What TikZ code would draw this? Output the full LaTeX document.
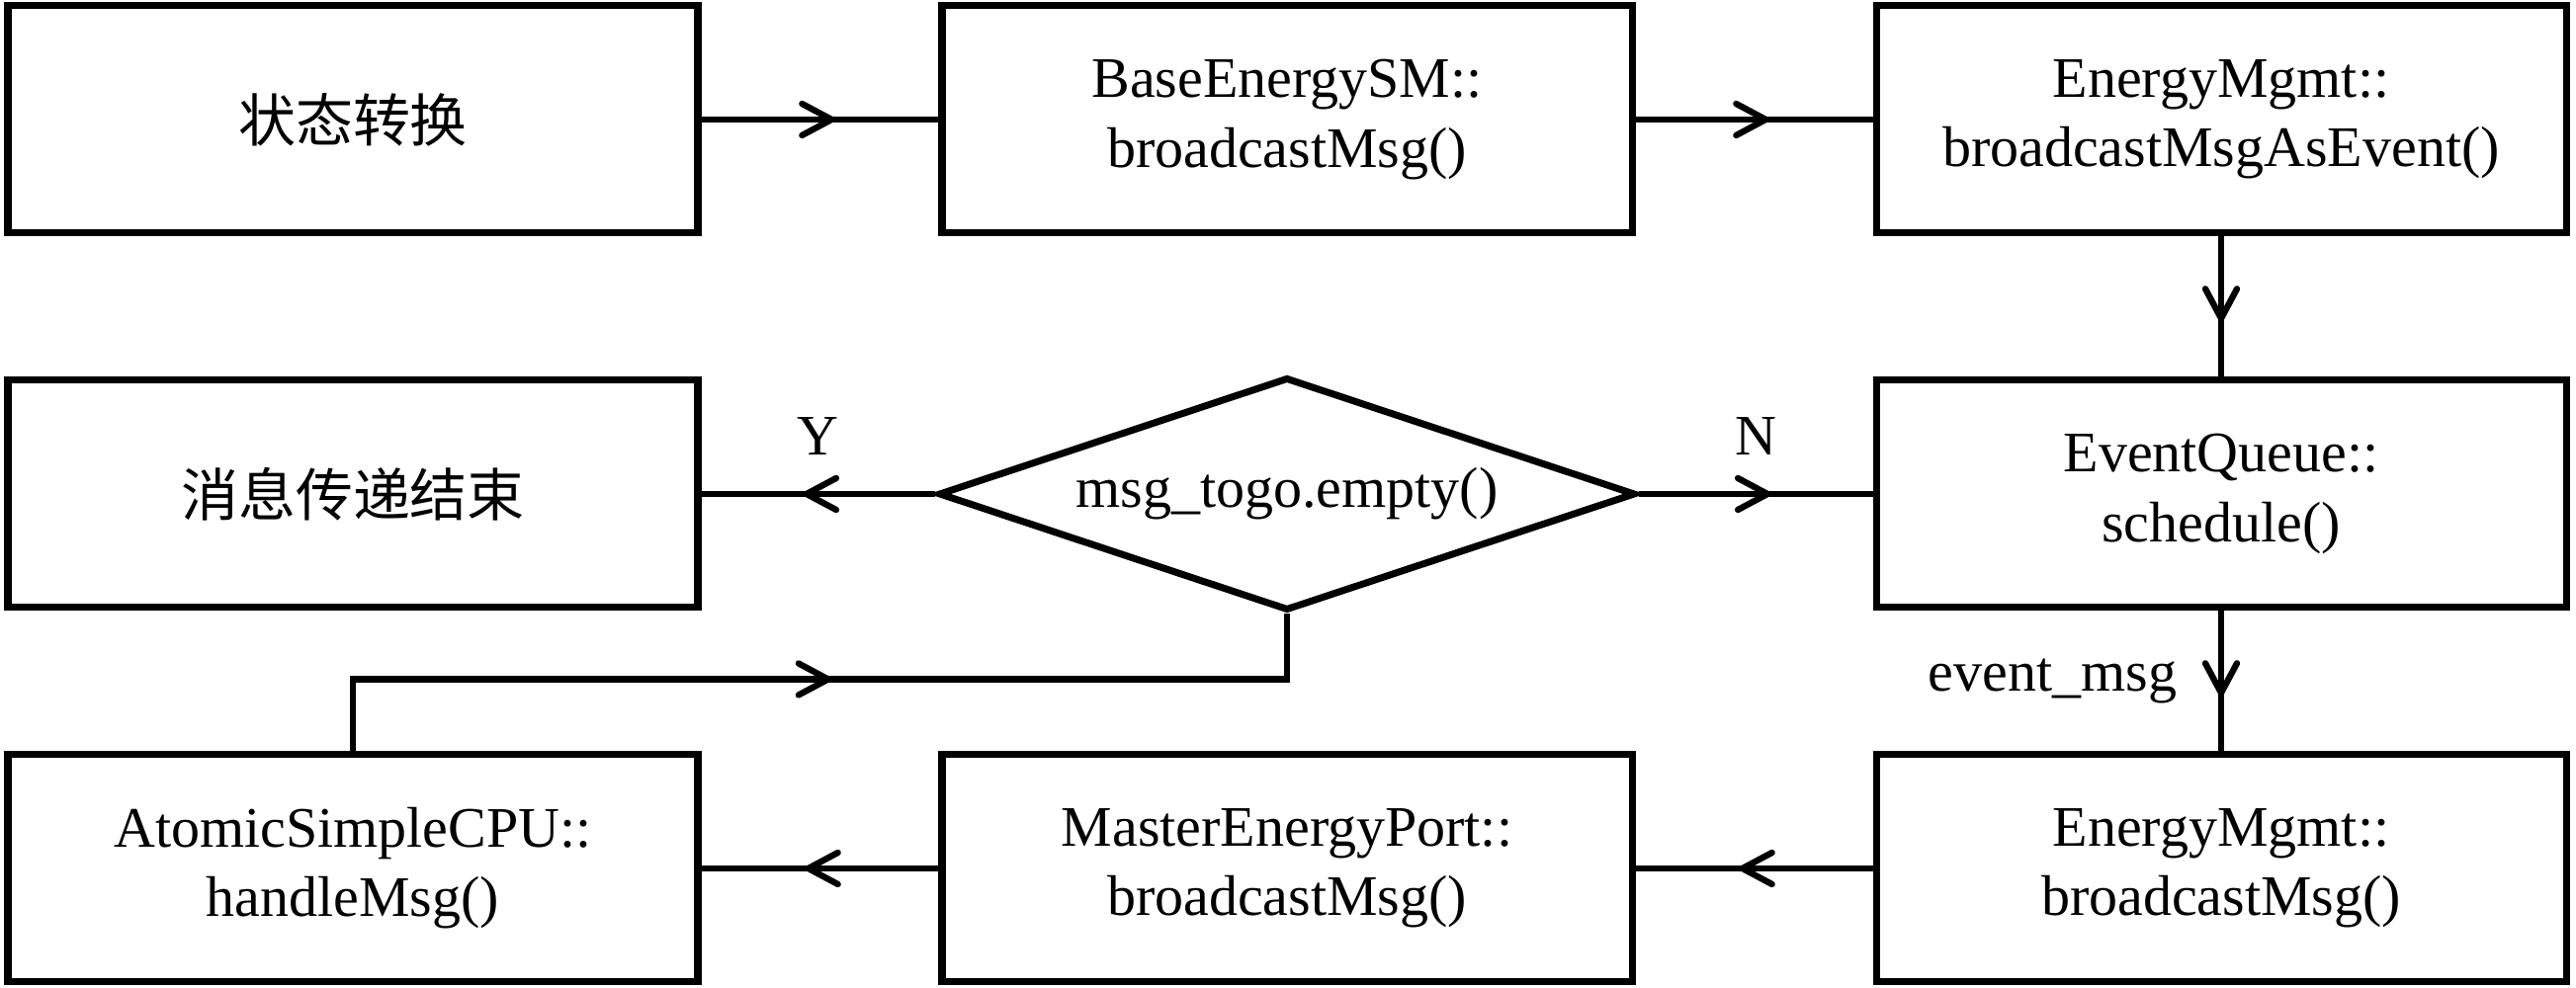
\documentclass[tikz,border=0pt]{standalone}
\usepackage{fontspec}
\setmainfont{Liberation Serif}
\newfontfamily\cjk{Noto Sans CJK SC}
\usetikzlibrary{shapes.geometric, arrows.meta, decorations.markings}
\tikzstyle{process} = [rectangle, draw, line width=2pt, minimum width=6.98cm, minimum height=2.3cm, text centered, align=center]
\tikzstyle{decision} = [diamond, draw, line width=2pt, aspect=3, minimum width=7.05cm, minimum height=2.36cm, inner sep=0pt, text centered]
\tikzstyle{arrow} = [line width=1.8pt, postaction={decorate}, decoration={markings, mark=at position 0.5 with {\arrow[xshift=1.5mm]{Straight Barb[length=3mm,width=3.2mm,round]}}}]

\begin{document}
\begin{tikzpicture}[font=\fontsize{16.5}{20}\selectfont]
            \useasboundingbox (0,0) rectangle (26.06,10);
            \node [process] at (3.57,8.79) (state) {\cjk 状态转换};
            \node [process] at (13.02,8.79) (basesm) {BaseEnergySM::\\broadcastMsg()};
            \node [process] at (22.47,8.79) (asevent) {EnergyMgmt::\\broadcastMsgAsEvent()};
            \node [process] at (3.57,5) (msgend) {\cjk 消息传递结束};
            \node [decision] at (13.02,5) (empty) {msg\_togo.empty()};
            \node [process] at (22.47,5) (schedule) {EventQueue::\\schedule()};
            \node [process] at (3.57,1.21) (handlemsg) {AtomicSimpleCPU::\\handleMsg()};
            \node [process] at (13.02,1.21) (masterport) {MasterEnergyPort::\\broadcastMsg()};
            \node [process] at (22.47,1.21) (mgmtbcast) {EnergyMgmt::\\broadcastMsg()};
            \draw [arrow] (state) -- (basesm);
            \draw [arrow] (basesm) -- (asevent);
            \draw [arrow] (asevent) -- (schedule);
            \draw [arrow] (schedule) -- node [midway, left=3mm] (eventmsg) {event\_msg} (mgmtbcast);
            \draw [arrow] (mgmtbcast) -- (masterport);
            \draw [arrow] (masterport) -- (handlemsg);
            \draw [arrow] (handlemsg.north) -- ++(0,0.73) -| (empty.south);
            \draw [arrow] (empty.west) -- node [midway, above=2.5mm] (yes) {Y} (msgend);
            \draw [arrow] (empty.east) -- node [midway, above=2.5mm] (no) {N} (schedule);
            \end{tikzpicture}
\end{document}
